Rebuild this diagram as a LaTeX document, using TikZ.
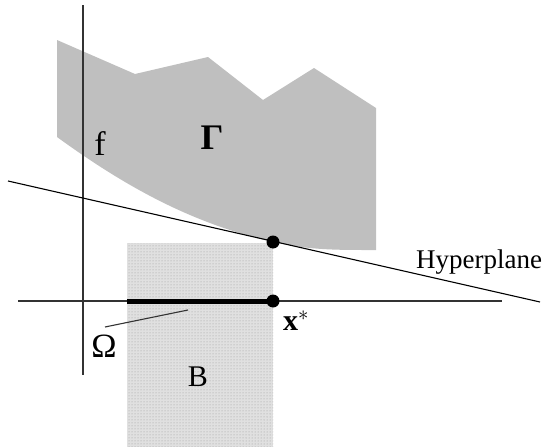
\documentclass[tikz,border=0pt]{standalone}
\usepackage{fontspec}
\setmainfont{Liberation Serif}
\usetikzlibrary{patterns}
\begin{document}
\begin{tikzpicture}[x=1pt,y=-1pt,
  lbl/.style={font=\fontsize{27}{30}\selectfont, inner sep=0pt, anchor=base},
  thinline/.style={line width=1.1pt, black!80},
  dotnode/.style={circle, fill=black, inner sep=0pt, minimum size=13pt}]
\useasboundingbox (0,0) rectangle (544,447);
% Gamma region
\fill[black!25] (57,40) -- (135,74) -- (208,57) -- (263,100) -- (314,68) -- (376,108)
  -- (376,250) .. controls (340,250) and (310,250.4) .. (273,242)
  .. controls (195,224) and (130,190) .. (57,137) -- cycle;
% box B
\fill[black!12] (127,243) rectangle (273,447);
\fill[pattern=dots, pattern color=black!40] (127,243) rectangle (273,447);
% axes
\coordinate (vtop) at (83,5);
\coordinate (vbot) at (83,375);
\coordinate (hl) at (18,301);
\coordinate (hr) at (502,301);
\draw[thinline] (vtop) -- (vbot);
\draw[thinline] (hl) -- (hr);
% hyperplane
\coordinate (hp1) at (8,181);
\coordinate (hp2) at (540,302);
\draw[thinline, black] (hp1) -- (hp2);
% Omega segment
\coordinate (om1) at (127,301);
\node[dotnode] (xs) at (273,301) {};
\node[dotnode] (tp) at (273,242) {};
\draw[line width=5pt] (om1) -- (xs.center);
% labels
\node[lbl, font=\fontsize{34}{36}\selectfont] (f) at (100,155) {f};
\node[lbl, font=\fontsize{36}{38}\selectfont] (G) at (212,149) {\textbf{Γ}};
\node[lbl, anchor=base west] (H) at (416,268) {Hyperplane};
\node[lbl, anchor=base west, font=\fontsize{30}{32}\selectfont] (xl) at (283,330) {\textbf{x}$^{*}$};
\node[lbl, font=\fontsize{30}{32}\selectfont] (B) at (198,386) {B};
\node[lbl, font=\fontsize{34}{36}\selectfont] (Om) at (104,357) {Ω};
\coordinate (omA) at (105,327);
\coordinate (omB) at (188,310);
\draw[thinline] (omA) -- (omB);
\end{tikzpicture}
\end{document}
